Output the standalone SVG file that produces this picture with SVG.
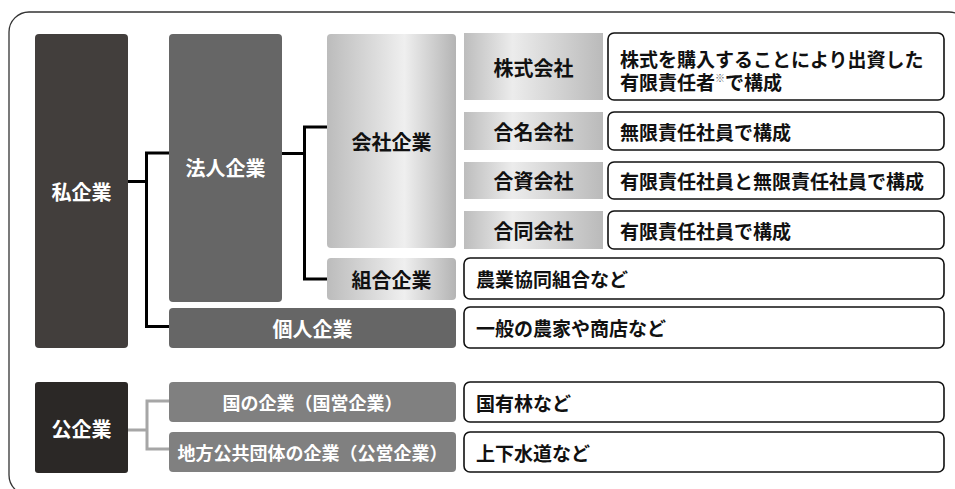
<svg xmlns="http://www.w3.org/2000/svg" width="955" height="489" viewBox="0 0 955 489">
<defs>
<linearGradient id="gKaisha" x1="0" y1="0" x2="1" y2="0">
<stop offset="0" stop-color="#bcbcbc"/>
<stop offset="0.6" stop-color="#efefef"/>
<stop offset="1" stop-color="#b4b4b4"/>
</linearGradient>
<linearGradient id="gType" x1="0" y1="0" x2="1" y2="0">
<stop offset="0" stop-color="#bdbdbd"/>
<stop offset="0.35" stop-color="#ececec"/>
<stop offset="1" stop-color="#bababa"/>
</linearGradient>
<style>
text{font-family:"Noto Sans CJK JP","Noto Sans CJK SC",sans-serif;font-weight:bold;dominant-baseline:central}
.w{fill:#fff;font-size:20px;text-anchor:middle}
.ws{fill:#fff;font-size:18px;text-anchor:middle}
.k{fill:#111;font-size:20px;text-anchor:middle}
.d{fill:#111;font-size:19px}
.box{fill:#fff;stroke:#111;stroke-width:1.6}
.con{fill:none;stroke:#000;stroke-width:3}
.conG{fill:none;stroke:#a6a6a6;stroke-width:3}
</style>
</defs>
<rect x="9" y="12" width="960" height="483" rx="20" fill="none" stroke="#333" stroke-width="1.3"/>
<g id="connectors">
<path class="con" d="M128 181.5H146.5M169 153H146.5V326.5H169"/>
<path class="con" d="M282 153.5H304.5M327 127H304.5V279H327"/>
<path class="conG" d="M128 430H147M169 401H147V449H169"/>
</g>
<g id="shikigyo"><rect x="35" y="34" width="93" height="314" rx="4" fill="#423e3c"/><text class="w" x="81.5" y="191">私企業</text></g>
<g id="hojin"><rect x="169" y="34" width="113" height="268" rx="4" fill="#666"/><text class="w" x="225.5" y="167">法人企業</text></g>
<g id="kaisha"><rect x="327" y="34" width="129" height="214" rx="4" fill="url(#gKaisha)"/><text class="k" x="391.5" y="141">会社企業</text></g>
<g id="kabushiki"><rect x="464" y="33" width="139" height="67" fill="url(#gType)"/><text class="k" x="533.5" y="67">株式会社</text></g>
<g id="kabushiki-desc"><rect class="box" x="608" y="33" width="336" height="67" rx="6"/><text class="d" x="620" y="58">株式を購入することにより出資した</text><text class="d" x="620" y="81">有限責任者<tspan font-size="10" dy="-4" fill="#666">※</tspan><tspan dy="4">で構成</tspan></text></g>
<g id="gomei"><rect x="464" y="112" width="139" height="38" fill="url(#gType)"/><text class="k" x="533.5" y="131">合名会社</text></g>
<g id="gomei-desc"><rect class="box" x="608" y="112" width="336" height="38" rx="6"/><text class="d" x="620" y="131">無限責任社員で構成</text></g>
<g id="goshi"><rect x="464" y="162" width="139" height="37" fill="url(#gType)"/><text class="k" x="533.5" y="180.5">合資会社</text></g>
<g id="goshi-desc"><rect class="box" x="608" y="162" width="336" height="37" rx="6"/><text class="d" x="620" y="180.5">有限責任社員と無限責任社員で構成</text></g>
<g id="godo"><rect x="464" y="211" width="139" height="38" fill="url(#gType)"/><text class="k" x="533.5" y="230">合同会社</text></g>
<g id="godo-desc"><rect class="box" x="608" y="211" width="336" height="38" rx="6"/><text class="d" x="620" y="230">有限責任社員で構成</text></g>
<g id="kumiai"><rect x="327" y="258" width="129" height="42" rx="4" fill="url(#gKaisha)"/><text class="k" x="391.5" y="279">組合企業</text></g>
<g id="kumiai-desc"><rect class="box" x="464" y="258" width="480" height="41" rx="6"/><text class="d" x="476" y="278.5">農業協同組合など</text></g>
<g id="kojin"><rect x="169" y="308" width="287" height="40" rx="4" fill="#666"/><text class="w" x="312.5" y="328">個人企業</text></g>
<g id="kojin-desc"><rect class="box" x="464" y="307" width="480" height="41" rx="6"/><text class="d" x="476" y="327.5">一般の農家や商店など</text></g>
<g id="kokigyo"><rect x="35" y="382" width="93" height="91" rx="3" fill="#2b2826"/><text class="w" x="81.5" y="428">公企業</text></g>
<g id="kuni"><rect x="169" y="382" width="287" height="40" rx="4" fill="#808080"/><text class="ws" x="312.5" y="402">国の企業（国営企業）</text></g>
<g id="kuni-desc"><rect class="box" x="464" y="382" width="480" height="40" rx="6"/><text class="d" x="476" y="402">国有林など</text></g>
<g id="chiho"><rect x="169" y="432" width="287" height="40" rx="4" fill="#808080"/><text class="ws" x="312.5" y="452">地方公共団体の企業（公営企業）</text></g>
<g id="chiho-desc"><rect class="box" x="464" y="432" width="480" height="40" rx="6"/><text class="d" x="476" y="452">上下水道など</text></g>
</svg>
